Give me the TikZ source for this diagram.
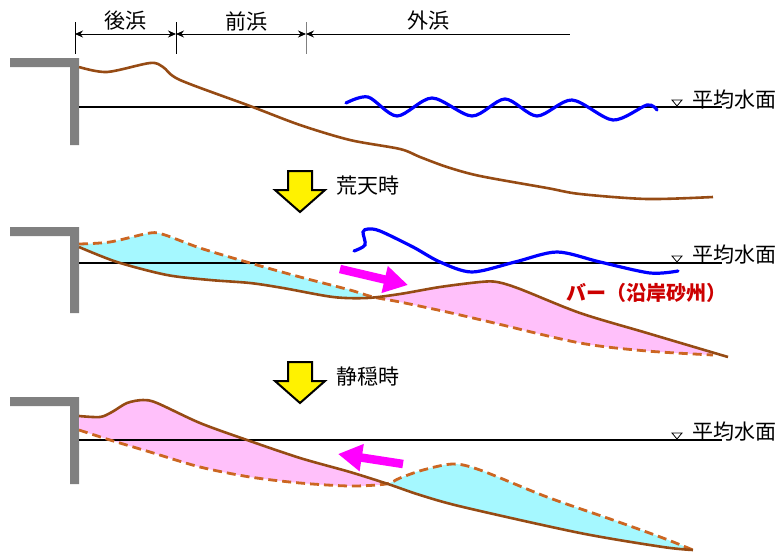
\documentclass[tikz,border=0pt]{standalone}
\usepackage{fontspec}
\setmainfont{Noto Sans CJK JP}
\usetikzlibrary{arrows.meta}

\definecolor{sandbrown}{RGB}{150,75,20}
\definecolor{oldsand}{RGB}{204,102,34}
\definecolor{wallgray}{RGB}{128,128,128}
\definecolor{barred}{RGB}{204,0,0}
\definecolor{erodecyan}{RGB}{165,248,255}
\definecolor{depopink}{RGB}{255,192,250}
\definecolor{driftpink}{RGB}{255,0,255}

% beach profiles
\newcommand{\topsand}{plot[smooth] coordinates {(79,67) (107,72) (150,63) (163,67) (180,80) (250,106) (300,125) (350,140) (400,149) (420,157) (447,167) (480,176) (547,188) (580,194) (647,199) (713,197)}}
\newcommand{\stormsand}{plot[smooth] coordinates {(79,247) (117,262) (167,275) (210,280) (250,283) (283,288) (333,297) (367,298) (400,294) (440,287) (480,282) (497,282) (520,289) (580,313) (647,333) (728,357)}}
\newcommand{\stormold}{plot[smooth] coordinates {(79,244) (110,242) (150,233) (165,235) (200,248) (250,263) (300,277) (350,290) (373,297) (400,302) (447,312) (490,322) (580,343) (647,351) (713,355)}}
\newcommand{\calmsand}{plot[smooth] coordinates {(79,416) (100,417) (112,412) (127,403) (143,400) (157,403) (200,423) (247,440) (300,458) (350,472) (388,484) (420,495) (463,507) (580,533) (663,547) (693,550)}}
\newcommand{\calmold}{plot[smooth] coordinates {(79,430) (110,440) (150,452) (200,467) (250,477) (300,483) (350,486) (386,484) (400,478) (423,470) (453,464) (480,470) (547,497) (613,520) (663,538) (693,550)}}

% erosion (cyan) and deposit (pink) between two profiles
\newcommand{\sandfill}[4]{%
  \begin{scope}
    \clip #2 -- (#4,600) -- (#3,600) -- cycle;
    \fill[erodecyan] #1 -- (#4,0) -- (#3,0) -- cycle;
  \end{scope}
  \begin{scope}
    \clip #1 -- (#4,600) -- (#3,600) -- cycle;
    \fill[depopink] #2 -- (#4,0) -- (#3,0) -- cycle;
  \end{scope}}

\begin{document}
\begin{tikzpicture}[x=1pt,y=-1pt,
  txt/.style={font=\fontsize{21}{24}\selectfont,inner sep=0pt},
  sand/.style={sandbrown,line width=2.6pt},
  old/.style={oldsand,line width=2.8pt,dash pattern=on 9pt off 5pt},
  wave/.style={blue,line width=3.2pt,line cap=round},
  level/.style={line width=1.2pt},
  dim/.style={line width=0.9pt},
  drift/.style={driftpink,line width=8.5pt,-{Triangle[length=24pt,width=26pt]}},
  bigarrow/.style={fill=yellow,draw=black,line width=2pt,line join=miter},
  levelmark/.style={line width=0.8pt}]
\useasboundingbox (0,0) rectangle (779,554);

%Bo bien
\coordinate (b0) at (75,34);
\coordinate (b1) at (176,34);
\coordinate (b2) at (306,34);
\coordinate (b3) at (570,34);
\draw[dim] (75,22) -- (75,54);
\draw[dim] (176,22) -- (176,54);
\draw[dim,gray] (306,22) -- (306,54);
\draw[dim,{Stealth[length=8pt,width=7pt]}-{Stealth[length=8pt,width=7pt]}] (b0) -- (b1);
\draw[dim,{Stealth[length=8pt,width=7pt]}-{Stealth[length=8pt,width=7pt]}] (b1) -- (b2);
\draw[dim,{Stealth[length=8pt,width=7pt]}-] (b2) -- (b3);
\node[txt] (backshore) at (125,21) {後浜};
\node[txt] (foreshore) at (246,21) {前浜};
\node[txt] (offshore) at (428,21) {外浜};

%Tren: mat cat ban dau
\fill[wallgray] (10,58) -- (79,58) -- (79,145) -- (70,145) -- (70,67) -- (10,67) -- cycle;
\draw[level] (79,107) -- (722,107);
\draw[levelmark] (672,100) -- (682,100) -- (677,106) -- cycle;
\node[txt,anchor=west] (msl1) at (692,100) {平均水面};
\draw[sand] \topsand;
\draw[wave] plot[smooth] coordinates {(346,103) (368,97) (397,116) (432,98) (472,116) (505,99) (537,116) (572,100) (613,120) (647,105) (657,110)};

%Mui ten vang 1
\draw[bigarrow] (288,171) -- (312,171) -- (312,190) -- (325,190) -- (300,212) -- (275,190) -- (288,190) -- cycle;
\node[txt,anchor=west] (storm) at (336,186) {荒天時};

%Giua: khi bao
\fill[wallgray] (10,227) -- (79,227) -- (79,313) -- (70,313) -- (70,236) -- (10,236) -- cycle;
\sandfill{\stormsand}{\stormold}{79}{728}
\draw[level] (79,263) -- (722,263);
\draw[levelmark] (672,256) -- (682,256) -- (677,262) -- cycle;
\node[txt,anchor=west] (msl2) at (692,255) {平均水面};
\draw[old] \stormold;
\draw[sand] \stormsand;
\draw[wave] plot[smooth] coordinates {(354,251) (365,245) (363,232) (368,229) (380,231) (413,247) (440,262) (472,272) (515,262) (557,252) (600,262) (650,273) (678,271)};
\coordinate (off1) at (340,269);
\coordinate (off2) at (408,285);
\draw[drift] (off1) -- (off2);
\node[txt,font=\fontsize{20}{24}\selectfont\bfseries,text=barred,anchor=west] (bar) at (566,293) {バー（沿岸砂州）};

%Mui ten vang 2
\begin{scope}[shift={(0,191)}]
\draw[bigarrow] (288,171) -- (312,171) -- (312,190) -- (325,190) -- (300,212) -- (275,190) -- (288,190) -- cycle;
\end{scope}
\node[txt,anchor=west] (calm) at (336,377) {静穏時};

%Duoi: khi lang
\fill[wallgray] (10,397) -- (79,397) -- (79,484) -- (70,484) -- (70,406) -- (10,406) -- cycle;
\sandfill{\calmsand}{\calmold}{79}{693}
\draw[level] (79,440) -- (722,440);
\draw[levelmark] (672,433) -- (682,433) -- (677,439) -- cycle;
\node[txt,anchor=west] (msl3) at (692,432) {平均水面};
\draw[old] \calmold;
\draw[sand] \calmsand;
\coordinate (on1) at (403,464);
\coordinate (on2) at (338,454);
\draw[drift] (on1) -- (on2);
\end{tikzpicture}
\end{document}
